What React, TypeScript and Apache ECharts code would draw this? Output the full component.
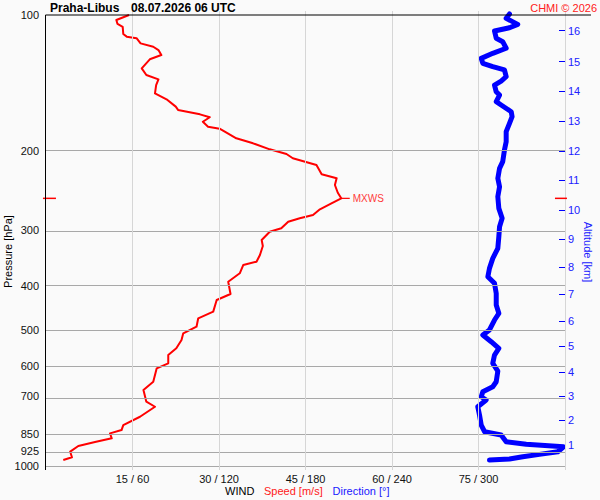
import React, { useEffect, useRef } from "react";
import * as echarts from "echarts";

// Wind speed profile [m/s] vs pressure [hPa]
const speedPressure = [
  100, 102.6, 104.7, 106.2, 110.2, 111.7, 112.6, 115.6, 117.6, 119.6, 122.7, 125.4, 131.3, 135.9,
  138.9, 143.0, 149.2, 153.8, 159.7, 162.4, 166.1, 168.6, 172.5, 176.9, 178.7, 182.4, 187.7, 192.6,
  198.6, 203.4, 207.9, 215.1, 225.6, 230.2, 238.3, 247.9, 255.1, 261.7, 269.8, 277.8, 282.5, 287.4,
  297.3, 302.5, 315.6, 325.3, 340.7, 352.6, 358.6, 374.1, 390.5, 415.8, 428.7, 455.0, 470.8, 491.4,
  508.3, 526.0, 548.8, 567.9, 592.5, 607.8, 651.0, 679.2, 720.9, 739.6, 778.4, 812.1, 833.1, 847.3,
  868.9, 885.5, 903.7, 930.4, 957.6, 970.9,
];
const speedValues = [
  14.4, 12.2, 12.4, 13.3, 13.4, 14.0, 15.7, 16.4, 18.6, 19.5, 20.0, 18.0, 16.6, 17.4,
  19.5, 19.1, 18.9, 20.9, 22.5, 22.9, 26.7, 28.4, 27.2, 28.1, 30.1, 31.3, 33.0, 35.9,
  38.8, 41.7, 42.8, 46.9, 47.8, 50.4, 50.1, 50.6, 51.2, 49.5, 47.5, 46.3, 44.0, 42.0,
  40.8, 38.8, 37.4, 37.6, 37.1, 36.5, 34.2, 33.6, 31.6, 32.0, 29.6, 29.0, 26.4, 26.1,
  23.8, 23.5, 22.6, 21.2, 21.2, 19.2, 18.6, 16.9, 17.4, 18.9, 16.3, 13.4, 13.1, 11.1,
  11.4, 8.5, 5.6, 4.2, 4.5, 3.0,
];

// Wind direction profile [deg] vs pressure [hPa]
const dirPressure = [
  99.5, 101.7, 104.9, 106.7, 108.5, 112.6, 114.6, 118.5, 121.6, 124.8, 128.0, 130.2, 132.4, 137.0,
  140.1, 143.0, 148.0, 150.5, 155.7, 158.4, 163.9, 168.1, 173.9, 181.5, 191.0, 199.3, 211.5, 218.9,
  230.3, 240.4, 252.9, 268.5, 282.5, 294.9, 310.4, 329.3, 346.6, 364.8, 380.6, 393.8, 414.5, 439.9,
  459.0, 474.9, 499.7, 512.7, 530.6, 548.8, 567.9, 592.5, 616.4, 650.9, 667.7, 685.0, 702.7, 714.5,
  739.6, 771.6, 812.1, 840.2, 854.6, 884.5, 896.2, 907.3, 930.8, 943.2, 954.6, 965.9, 970.9,
];
const dirValues = [
  321.5, 319.2, 327.2, 321.5, 311.1, 312.3, 316.8, 319.2, 309.9, 301.9, 303.0, 309.9, 318.0, 319.2,
  315.7, 311.1, 312.3, 314.6, 312.3, 315.7, 322.7, 323.3, 321.5, 319.2, 319.2, 318.0, 316.8, 314.6,
  313.4, 314.6, 313.4, 314.1, 316.4, 314.6, 314.1, 313.4, 309.9, 307.6, 306.5, 311.1, 312.3, 312.3,
  314.1, 311.1, 307.6, 303.0, 308.8, 314.1, 311.1, 309.9, 313.4, 312.3, 309.9, 303.0, 301.9, 305.3,
  299.5, 300.7, 301.9, 304.2, 315.7, 319.2, 333.1, 359.0, 355.0, 342.3, 330.7, 321.5, 307.6,
];

// Axis ticks
const pressureTicks = [100, 200, 300, 400, 500, 600, 700, 850, 925, 1000];
const speedTicks = [15, 30, 45, 60, 75];
const altitudeKm = [1, 2, 3, 4, 5, 6, 7, 8, 9, 10, 11, 12, 13, 14, 15, 16];
const altitudePressure = [
  899.1, 792.7, 701.2, 619.4, 542.3, 478.1, 416.6, 362.9, 314.3, 270.7, 232.3, 200.3, 172.1, 147.4,
  126.9, 108.3,
];

// Maximum wind
const maxWindPressure = 255.1;
const maxWindSpeed = 51.2;

const FONT = "'Liberation Sans', Arial, sans-serif";
const RED = "#ff0000";
const BLUE = "#0000ff";

const lg = (p: number) => Math.log10(p);

export default function App() {
  const ref = useRef<HTMLDivElement>(null);

  useEffect(() => {
    if (!ref.current) return;
    const chart = echarts.init(ref.current, undefined, { renderer: "svg" });

    const pressureLog = pressureTicks.map(lg);
    const altitudeLog = altitudePressure.map(lg);
    const mxY = lg(maxWindPressure);
    const yMin = 2 - 4 / 450.8;
    const yMax = 2 + 455 / 450.8;

    const option: any = {
      animation: false,
      backgroundColor: "#fafafa",
      textStyle: { fontFamily: FONT },
      grid: {
        left: 46,
        right: 35,
        top: 11,
        bottom: 30,
        containLabel: false,
        outerBoundsMode: "none",
      },
      xAxis: [
        {
          type: "value",
          min: 0,
          max: 90,
          interval: 15,
          position: "bottom",
          axisLine: { show: false, onZero: false },
          axisTick: { show: false },
          axisLabel: {
            margin: 3,
            fontSize: 11,
            color: "#111",
            fontFamily: FONT,
            formatter: (v: number) =>
              speedTicks.indexOf(v) >= 0 ? `${v} / ${v * 4}` : "",
          },
          splitLine: { show: false },
        },
        {
          type: "value",
          min: 0,
          max: 360,
          show: false,
          axisLine: { onZero: false },
        },
      ],
      yAxis: [
        {
          type: "value",
          min: yMin,
          max: yMax,
          inverse: true,
          position: "left",
          axisLine: { show: false, onZero: false },
          axisTick: { show: false, customValues: pressureLog },
          axisLabel: {
            customValues: pressureLog,
            margin: 7,
            fontSize: 11,
            color: "#111",
            fontFamily: FONT,
            formatter: (v: number) => String(Math.round(Math.pow(10, v))),
          },
          splitLine: { show: false },
        },
        {
          type: "value",
          min: yMin,
          max: yMax,
          inverse: true,
          position: "right",
          axisLine: { show: false, onZero: false },
          axisTick: {
            show: true,
            inside: true,
            length: 6,
            customValues: altitudeLog,
            lineStyle: { color: BLUE, width: 1 },
          },
          axisLabel: {
            customValues: altitudeLog,
            margin: 3,
            fontSize: 11,
            color: "#2020ff",
            fontFamily: FONT,
            formatter: (v: number) => {
              const i = altitudeLog.findIndex((a) => Math.abs(a - v) < 1e-6);
              return i >= 0 ? String(altitudeKm[i]) : "";
            },
          },
          splitLine: { show: false },
        },
      ],
      series: [
        {
          name: "grid",
          type: "line",
          xAxisIndex: 0,
          yAxisIndex: 0,
          data: [],
          silent: true,
          z: 1,
          markLine: {
            silent: true,
            symbol: "none",
            label: { show: false },
            data: [
              ...pressureTicks
                .filter((p) => p !== 100)
                .map((p) => ({
                  yAxis: lg(p),
                  lineStyle: { color: "#a8a8a8", width: 1, type: "solid" },
                })),
              ...speedTicks.concat([90]).map((s) => ({
                xAxis: s,
                lineStyle: { color: "#d6d6d6", width: 1, type: "solid" },
              })),
            ],
          },
        },
        {
          name: "Speed",
          type: "line",
          xAxisIndex: 0,
          yAxisIndex: 0,
          symbol: "none",
          lineStyle: { color: RED, width: 2, join: "round" },
          data: speedPressure.map((p, i) => [speedValues[i], lg(p)]),
          z: 3,
          markPoint: {
            silent: true,
            data: [
              {
                coord: [maxWindSpeed, mxY],
                symbol: "rect",
                symbolSize: [8, 1.2],
                symbolOffset: [4.5, 0],
                itemStyle: { color: RED },
                label: {
                  show: true,
                  position: "right",
                  distance: 3,
                  formatter: "MXWS",
                  color: "#ff3a3a",
                  fontSize: 10,
                  fontFamily: FONT,
                },
              },
              {
                coord: [0.6, mxY],
                symbol: "rect",
                symbolSize: [13, 1.5],
                itemStyle: { color: RED },
                label: { show: false },
              },
              {
                coord: [89.3, mxY],
                symbol: "rect",
                symbolSize: [12, 1.5],
                itemStyle: { color: RED },
                label: { show: false },
              },
            ],
          },
        },
        {
          name: "Direction",
          type: "line",
          xAxisIndex: 1,
          yAxisIndex: 0,
          symbol: "none",
          lineStyle: { color: BLUE, width: 5, cap: "round", join: "round" },
          data: dirPressure.map((p, i) => [dirValues[i], lg(p)]),
          z: 2,
        },
      ],
      graphic: [
        {
          type: "rect",
          shape: { x: 46, y: 0, width: 554, height: 14.5 },
          style: { fill: "#fafafa" },
          z: 1.5,
        },
        {
          type: "line",
          shape: { x1: 45.5, y1: 15, x2: 591, y2: 15 },
          style: { stroke: "#000", lineWidth: 1 },
          z: 10,
        },
        {
          type: "line",
          shape: { x1: 45.5, y1: 15, x2: 45.5, y2: 470 },
          style: { stroke: "#000", lineWidth: 1 },
          z: 10,
        },
        {
          type: "text",
          x: 50,
          y: 7.5,
          z: 11,
          style: {
            text: "Praha-Libus",
            fill: "#000",
            font: `bold 12px ${FONT}`,
            verticalAlign: "middle",
          },
        },
        {
          type: "text",
          x: 131,
          y: 7.5,
          z: 11,
          style: {
            text: "08.07.2026 06 UTC",
            fill: "#000",
            font: `bold 12px ${FONT}`,
            verticalAlign: "middle",
          },
        },
        {
          type: "text",
          x: 597,
          y: 7.5,
          z: 11,
          style: {
            text: "CHMI © 2026",
            fill: "#ff2020",
            font: `11px ${FONT}`,
            align: "right",
            verticalAlign: "middle",
          },
        },
        {
          type: "text",
          x: 8,
          y: 251.5,
          rotation: Math.PI / 2,
          style: {
            text: "Pressure [hPa]",
            fill: "#000",
            font: `11px ${FONT}`,
            align: "center",
            verticalAlign: "middle",
          },
        },
        {
          type: "text",
          x: 588,
          y: 252,
          rotation: -Math.PI / 2,
          style: {
            text: "Altitude [km]",
            fill: "#2020ff",
            font: `11px ${FONT}`,
            align: "center",
            verticalAlign: "middle",
          },
        },
        {
          type: "text",
          x: 225,
          y: 491,
          style: {
            text: "WIND",
            fill: "#000",
            font: `11px ${FONT}`,
            verticalAlign: "middle",
          },
        },
        {
          type: "text",
          x: 264,
          y: 491,
          style: {
            text: "Speed [m/s]",
            fill: "#ff2020",
            font: `11px ${FONT}`,
            verticalAlign: "middle",
          },
        },
        {
          type: "text",
          x: 332.5,
          y: 491,
          style: {
            text: "Direction [°]",
            fill: "#2020ff",
            font: `11px ${FONT}`,
            verticalAlign: "middle",
          },
        },
      ],
    };

    chart.setOption(option);
    return () => chart.dispose();
  }, []);

  return (
    <div
      ref={ref}
      style={{ position: "fixed", left: 0, top: 0, width: 600, height: 500 }}
    />
  );
}
